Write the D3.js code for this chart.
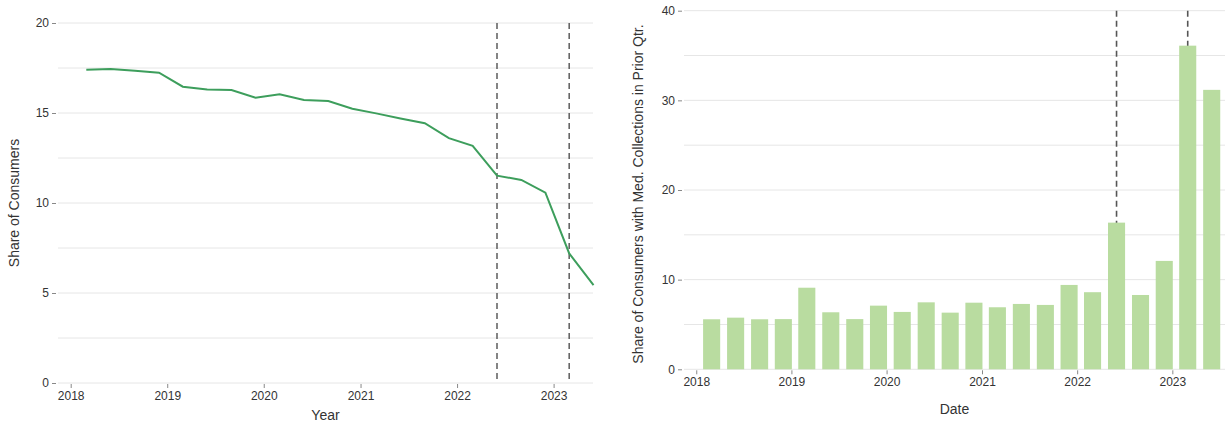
<!DOCTYPE html>
<html>
<head>
<meta charset="utf-8">
<script src="https://cdn.jsdelivr.net/npm/d3@7"></script>
<style>
  body { margin: 0; background: #fff; }
  svg { font-family: "Liberation Sans", Arial, sans-serif; }
  .grid line { stroke: #e6e6e6; stroke-width: 1; }
  .axis text { fill: #333; font-size: 12px; }
  .axis line { stroke: #888; }
  .axis path { display: none; }
  .title { fill: #333; font-size: 14px; }
</style>
</head>
<body>
<svg width="1225" height="433"></svg>
<script>
"use strict";

// quarterly dates, shared by both panels
const dates = [
  "2018-03-01","2018-06-01","2018-09-01","2018-12-01",
  "2019-03-01","2019-06-01","2019-09-01","2019-12-01",
  "2020-03-01","2020-06-01","2020-09-01","2020-12-01",
  "2021-03-01","2021-06-01","2021-09-01","2021-12-01",
  "2022-03-01","2022-06-01","2022-09-01","2022-12-01",
  "2023-03-01","2023-06-01"
];
// left panel: share of consumers (line)
const shareConsumers = [17.4, 17.44, 17.35, 17.24, 16.46, 16.3, 16.28, 15.85,
  16.04, 15.72, 15.67, 15.24, 14.98, 14.7, 14.43, 13.6, 13.18, 11.52, 11.28, 10.57, 7.2, 5.44];
// right panel: share with med. collections in prior qtr (bars)
const shareMedCollections = [5.58, 5.76, 5.58, 5.6, 9.1, 6.36, 5.6, 7.1, 6.4, 7.47, 6.32,
  7.43, 6.92, 7.29, 7.18, 9.41, 8.6, 16.36, 8.29, 12.09, 36.1, 31.17];
// policy change markers
const markerDates = ["2022-06-01", "2023-03-01"];
const yearTicks = ["2018","2019","2020","2021","2022","2023"];

const parse = d3.timeParse("%Y-%m-%d");
const data = dates.map((d, i) => ({ date: parse(d), line: shareConsumers[i], bar: shareMedCollections[i] }));
const markers = markerDates.map(parse);
const ticks = yearTicks.map(y => new Date(+y, 0, 1));

const svg = d3.select("svg");

/* ---------- left panel ---------- */
const L = { left: 58, right: 593, top: 23, bottom: 383 };
const xL = d3.scaleTime()
  .domain([new Date(2017, 10, 14), new Date(2023, 4, 30)])
  .range([L.left, L.right]);
const yL = d3.scaleLinear().domain([0, 20]).range([L.bottom, L.top]);

const gL = svg.append("g");

gL.append("g").attr("class", "grid")
  .selectAll("line").data(d3.range(0, 20.1, 2.5)).enter().append("line")
  .attr("x1", L.left).attr("x2", L.right)
  .attr("y1", d => yL(d)).attr("y2", d => yL(d));

gL.append("g").attr("class", "axis")
  .attr("transform", "translate(" + (L.left - 2) + ",0)")
  .call(d3.axisLeft(yL).tickValues([0, 5, 10, 15, 20]).tickSize(4).tickPadding(3));

gL.append("g").attr("class", "axis")
  .attr("transform", "translate(0," + (L.bottom + 1) + ")")
  .call(d3.axisBottom(xL).tickValues(ticks).tickFormat(d3.timeFormat("%Y")).tickSize(4).tickPadding(3));

gL.selectAll(".marker").data(markers).enter().append("line")
  .attr("x1", d => xL(d)).attr("x2", d => xL(d))
  .attr("y1", L.top).attr("y2", L.bottom)
  .attr("stroke", "#666").attr("stroke-width", 1.6)
  .attr("stroke-dasharray", "6,4");

gL.append("path").datum(data)
  .attr("fill", "none")
  .attr("stroke", "#3d9e5c")
  .attr("stroke-width", 2)
  .attr("d", d3.line().x(d => xL(d.date)).y(d => yL(d.line)));

gL.append("text").attr("class", "title")
  .attr("transform", "translate(19," + ((L.top + L.bottom) / 2) + ") rotate(-90)")
  .attr("text-anchor", "middle")
  .text("Share of Consumers");

gL.append("text").attr("class", "title")
  .attr("x", (L.left + L.right) / 2).attr("y", 420)
  .attr("text-anchor", "middle")
  .text("Year");

/* ---------- right panel ---------- */
const R = { left: 684, right: 1225, top: 10.7, bottom: 369.3 };
const xR = d3.scaleTime()
  .domain([new Date(2017, 10, 15), new Date(2023, 6, 22)])
  .range([R.left, R.right]);
const yR = d3.scaleLinear().domain([0, 40]).range([R.bottom, R.top]);
const barW = xR(new Date(2018, 2, 1)) - xR(new Date(2018, 0, 1)) + 1.7;

const gR = svg.append("g");

gR.append("g").attr("class", "grid")
  .selectAll("line").data(d3.range(0, 40.1, 5)).enter().append("line")
  .attr("x1", R.left).attr("x2", R.right)
  .attr("y1", d => yR(d)).attr("y2", d => yR(d));

gR.append("g").attr("class", "axis")
  .attr("transform", "translate(" + (R.left - 2) + ",0)")
  .call(d3.axisLeft(yR).tickValues([0, 10, 20, 30, 40]).tickSize(4).tickPadding(3));

gR.append("g").attr("class", "axis")
  .attr("transform", "translate(0," + (R.bottom + 1) + ")")
  .call(d3.axisBottom(xR).tickValues(ticks).tickFormat(d3.timeFormat("%Y")).tickSize(4).tickPadding(3));

gR.selectAll(".marker").data(markers).enter().append("line")
  .attr("x1", d => xR(d)).attr("x2", d => xR(d))
  .attr("y1", R.top).attr("y2", R.bottom)
  .attr("stroke", "#555").attr("stroke-width", 1.6)
  .attr("stroke-dasharray", "6,4");

gR.selectAll("rect").data(data).enter().append("rect")
  .attr("x", d => xR(d.date) - barW / 2)
  .attr("width", barW)
  .attr("y", d => yR(d.bar))
  .attr("height", d => yR(0) - yR(d.bar))
  .attr("fill", "#b9dca0");

gR.append("text").attr("class", "title")
  .attr("transform", "translate(643,194) rotate(-90)")
  .attr("text-anchor", "middle")
  .text("Share of Consumers with Med. Collections in Prior Qtr.");

gR.append("text").attr("class", "title")
  .attr("x", (R.left + R.right) / 2).attr("y", 414)
  .attr("text-anchor", "middle")
  .text("Date");
</script>
</body>
</html>
